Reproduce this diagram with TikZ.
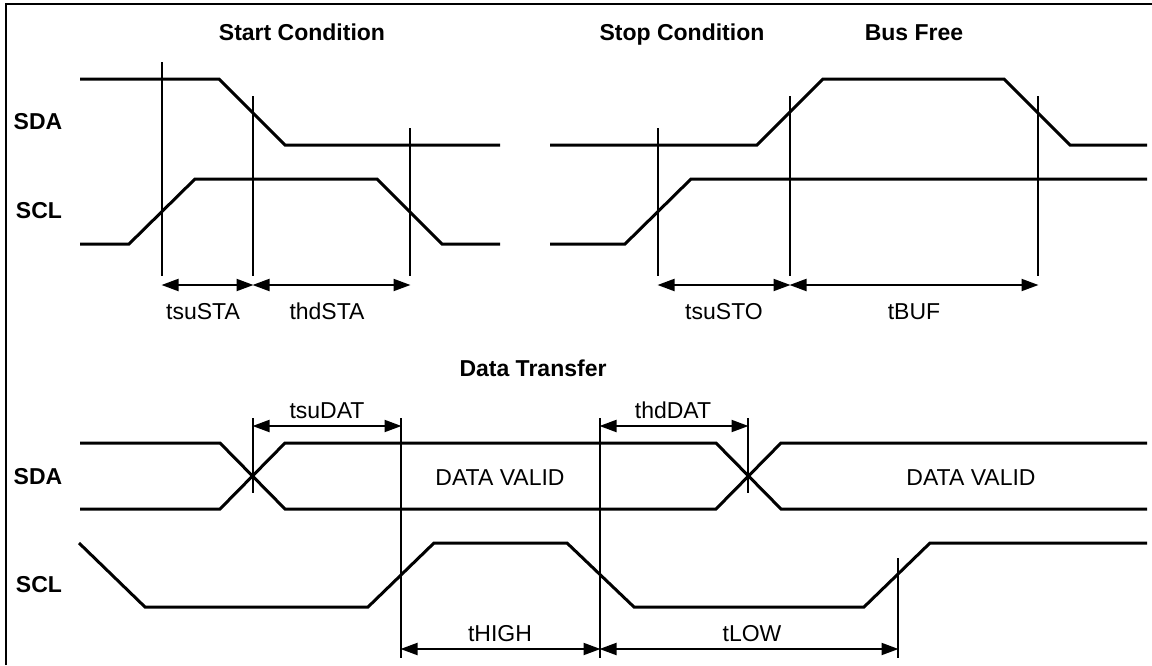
\documentclass[tikz,border=0pt]{standalone}
\usepackage{fontspec}
\setmainfont{Liberation Sans}
\usetikzlibrary{arrows.meta}
\begin{document}
\begin{tikzpicture}[x=1pt,y=-1pt,
  sig/.style={line width=3pt, line join=miter},
  guide/.style={line width=1.1pt},
  dimarrow/.style={line width=2pt, {Triangle[length=17pt,width=12pt]}-{Triangle[length=17pt,width=12pt]}, shorten <=-0.5pt, shorten >=-0.5pt},
  title/.style={font=\bfseries\fontsize{23}{27}\selectfont, inner sep=0pt, anchor=base},
  sname/.style={font=\bfseries\fontsize{23}{27}\selectfont, inner sep=0pt, anchor=base},
  lbl/.style={font=\fontsize{23}{27}\selectfont, inner sep=0pt, anchor=base}]
\useasboundingbox (0,0) rectangle (1152,665);
\fill[white] (0,0) rectangle (1152,665);
% frame
\draw[line width=2pt] (6,665) -- (6,4) -- (1152,4);

% titles
\node[title] (tstart) at (302,40) {Start Condition};
\node[title] (tstop) at (682,40) {Stop Condition};
\node[title] (tbus) at (914,40) {Bus Free};
\node[title] (tdata) at (533,376) {Data Transfer};

% signal names
\node[sname] (sda1) at (38,129) {SDA};
\node[sname] (scl1) at (39,218) {SCL};
\node[sname] (sda2) at (38,484) {SDA};
\node[sname] (scl2) at (39,592) {SCL};

% ---------- top left: start condition ----------
\draw[sig] (80,79) -- (219,79) -- (285,145) -- (500,145);
\draw[sig] (80,244) -- (129,244) -- (195,179) -- (377,179) -- (442,244) -- (500,244);
% ---------- top right: stop condition / bus free ----------
\draw[sig] (550,145) -- (757,145) -- (823,79) -- (1004,79) -- (1070,145) -- (1147,145);
\draw[sig] (550,244) -- (625,244) -- (691,179) -- (1147,179);

% guides (top)
\coordinate (gA) at (162,62);  \coordinate (aA) at (162,285);
\coordinate (gB) at (253,96);  \coordinate (aB) at (253,285);
\coordinate (gC) at (410,128); \coordinate (aC) at (410,285);
\coordinate (gD) at (658,128); \coordinate (aD) at (658,285);
\coordinate (gE) at (790,96);  \coordinate (aE) at (790,285);
\coordinate (gF) at (1038,96); \coordinate (aF) at (1038,285);
\foreach \g/\a in {gA/aA,gB/aB,gC/aC,gD/aD,gE/aE,gF/aF}
  \draw[guide] (\g) -- ([yshift=9pt]\a);

\draw[dimarrow] (aA) -- (aB);
\draw[dimarrow] (aB) -- (aC);
\draw[dimarrow] (aD) -- (aE);
\draw[dimarrow] (aE) -- (aF);

\node[lbl] (ltsusta) at (203,319) {tsuSTA};
\node[lbl] (lthdsta) at (327,319) {thdSTA};
\node[lbl] (ltsusto) at (724,319) {tsuSTO};
\node[lbl] (ltbuf) at (914,319) {tBUF};

% ---------- bottom: data transfer ----------
\draw[sig] (80,443) -- (220,443) -- (285,509) -- (716,509) -- (781,443) -- (1147,443);
\draw[sig] (80,509) -- (220,509) -- (285,443) -- (716,443) -- (781,509) -- (1147,509);
\draw[sig] (79,543) -- (145,607) -- (368,607) -- (434,543) -- (567,543) -- (634,607) -- (864,607) -- (930,543) -- (1147,543);

\coordinate (gG) at (253,418); \coordinate (bG) at (253,493); \coordinate (aG) at (253,426);
\coordinate (gH) at (401,418); \coordinate (bH) at (401,658); \coordinate (aH) at (401,426); \coordinate (cH) at (401,649);
\coordinate (gI) at (600,418); \coordinate (bI) at (600,658); \coordinate (aI) at (600,426); \coordinate (cI) at (600,649);
\coordinate (gJ) at (748,418); \coordinate (bJ) at (748,493); \coordinate (aJ) at (748,426);
\coordinate (gK) at (898,558); \coordinate (bK) at (898,658); \coordinate (cK) at (898,649);
\foreach \g/\b in {gG/bG,gH/bH,gI/bI,gJ/bJ,gK/bK}
  \draw[guide] (\g) -- (\b);

\draw[dimarrow] (aG) -- (aH);
\draw[dimarrow] (aI) -- (aJ);
\draw[dimarrow] (cH) -- (cI);
\draw[dimarrow] (cI) -- (cK);

\node[lbl] (ltsudat) at (327,418) {tsuDAT};
\node[lbl] (lthddat) at (673,418) {thdDAT};
\node[lbl] (ldv1) at (500,485) {DATA VALID};
\node[lbl] (ldv2) at (971,485) {DATA VALID};
\node[lbl] (lthigh) at (500,641) {tHIGH};
\node[lbl] (ltlow) at (752,641) {tLOW};
\end{tikzpicture}
\end{document}
